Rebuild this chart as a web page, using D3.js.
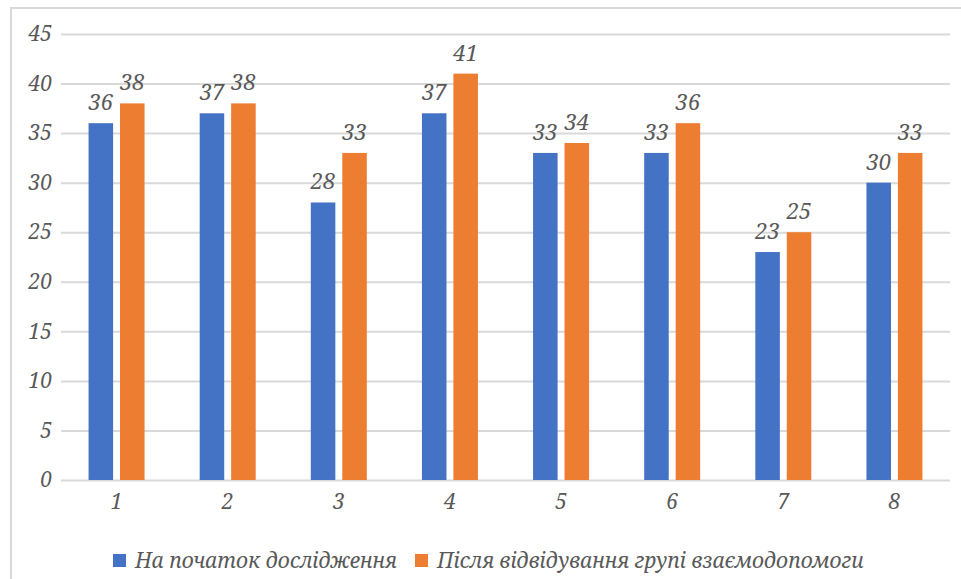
<!DOCTYPE html>
<html>
<head>
<meta charset="utf-8">
<script src="https://cdn.jsdelivr.net/npm/d3@7/dist/d3.min.js"></script>
<style>
  html, body { margin: 0; padding: 0; background: #fff; }
  svg { display: block; }
  svg text { font-family: "Noto Serif", serif; font-style: italic; fill: #595959; }
</style>
</head>
<body>
<svg id="chart" width="961" height="579"></svg>
<script>
const categories = ["1", "2", "3", "4", "5", "6", "7", "8"];
const seriesNames = ["На початок дослідження", "Після відвідування групі взаємодопомоги"];
const beforeValues = [36, 37, 28, 37, 33, 33, 23, 30];
const afterValues = [38, 38, 33, 41, 34, 36, 25, 33];
const yTicks = [0, 5, 10, 15, 20, 25, 30, 35, 40, 45];
const colors = ["#4472C4", "#ED7D31"];

const svg = d3.select("#chart");
const W = 961, H = 579;
const margin = { left: 61, right: 11, top: 34, bottom: 99 };
const FONT = "'Noto Serif', serif";

// chart frame
svg.append("rect")
  .attr("x", 11).attr("y", 8)
  .attr("width", W + 10).attr("height", H + 10)
  .attr("fill", "none").attr("stroke", "#d9d9d9").attr("stroke-width", 2);

const x = d3.scaleBand().domain(categories)
  .range([margin.left, W - margin.right]).paddingInner(0).paddingOuter(0);
const y = d3.scaleLinear().domain([0, 45]).range([H - margin.bottom, margin.top]);

const series = d3.scaleBand().domain([0, 1])
  .range([x.bandwidth() / 2 - 28, x.bandwidth() / 2 + 28]).paddingInner(0.22);

function styleText(sel, size) {
  sel.attr("font-size", size).attr("fill", "#595959")
    .style("font-family", FONT).style("font-style", "italic");
}

// gridlines + y labels
const yAxis = d3.axisLeft(y).tickValues(yTicks)
  .tickSize(-(W - margin.right - margin.left)).tickPadding(9);
const gy = svg.append("g").attr("transform", `translate(${margin.left},0)`).call(yAxis);
gy.select(".domain").remove();
gy.selectAll(".tick line").attr("stroke", "#d9d9d9").attr("stroke-width", 2);
styleText(gy.selectAll(".tick text"), 21);

// x labels
const xAxis = d3.axisBottom(x).tickSize(0).tickPadding(14);
const gx = svg.append("g").attr("transform", `translate(0,${y(0)})`).call(xAxis);
gx.select(".domain").remove();
styleText(gx.selectAll(".tick text"), 21);

const data = categories.map((c, i) => ({ c, v: [beforeValues[i], afterValues[i]] }));

const groups = svg.append("g").selectAll("g").data(data).join("g")
  .attr("transform", d => `translate(${x(d.c)},0)`);

groups.selectAll("rect").data(d => d.v.map((v, k) => ({ v, k }))).join("rect")
  .attr("x", d => series(d.k))
  .attr("width", series.bandwidth())
  .attr("y", d => y(d.v))
  .attr("height", d => y(0) - y(d.v))
  .attr("fill", d => colors[d.k]);

groups.selectAll("text.lbl").data(d => d.v.map((v, k) => ({ v, k }))).join("text")
  .attr("class", "lbl")
  .attr("x", d => series(d.k) + series.bandwidth() / 2)
  .attr("y", d => y(d.v) - 13)
  .attr("text-anchor", "middle")
  .call(styleText, 22)
  .text(d => d.v);

// legend
const legendY = 561;
const leg = svg.append("g");
const items = [{ x: 113, name: seriesNames[0], c: colors[0] }, { x: 415, name: seriesNames[1], c: colors[1] }];
items.forEach(it => {
  leg.append("rect").attr("x", it.x).attr("y", legendY - 7).attr("width", 13).attr("height", 13).attr("fill", it.c);
  leg.append("text").attr("x", it.x + 22).attr("y", legendY + 7).call(styleText, 21).text(it.name);
});
</script>
</body>
</html>
